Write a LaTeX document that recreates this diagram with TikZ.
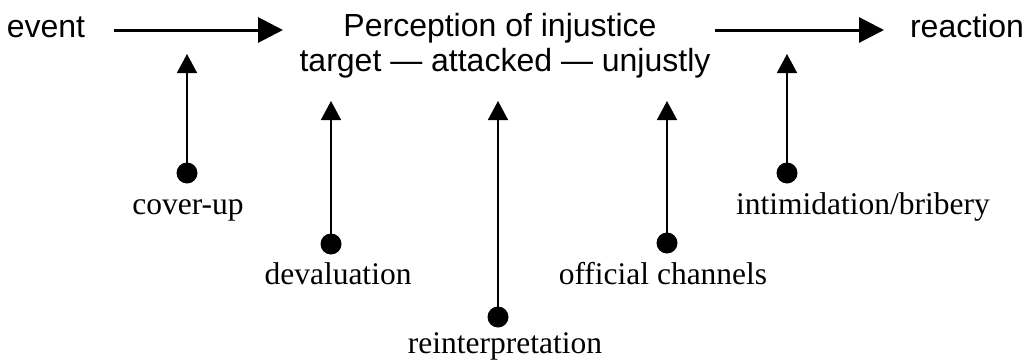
\documentclass[tikz,border=0pt]{standalone}
\usepackage{fontspec}
\setmainfont{Liberation Serif}
\setsansfont{Liberation Sans}
\usetikzlibrary{arrows.meta}
\begin{document}
\begin{tikzpicture}[x=1pt,y=-1pt,
  sanslab/.style={font=\sffamily\fontsize{32}{36}\selectfont, inner sep=0pt, anchor=base},
  serlab/.style={font=\rmfamily\fontsize{31.5}{36}\selectfont, inner sep=0pt, anchor=base},
  dot/.style={circle, fill=black, minimum size=21pt, inner sep=0pt},
  mainarrow/.style={line width=3pt, -{Triangle[length=25pt,width=25pt]}},
  inflarrow/.style={line width=1.6pt, -{Triangle[length=19pt,width=20pt]}}]
\useasboundingbox (0,0) rectangle (1031,362);
% top texts
\node[sanslab] (ev) at (46,37) {event};
\node[sanslab] (p1) at (500,36) {Perception of injustice};
\node[sanslab] (p2) at (505,71) {target — attacked — unjustly};
\node[sanslab] (re) at (967,37) {reaction};
% main arrows
\coordinate (a1s) at (114,30);
\coordinate (a1e) at (283,30);
\coordinate (a2s) at (715,30);
\coordinate (a2e) at (884,30);
\draw[mainarrow] (a1s) -- (a1e);
\draw[mainarrow] (a2s) -- (a2e);
% influence points
\node[dot] (c1) at (187,173) {};
\node[dot] (c2) at (331,244) {};
\node[dot] (c3) at (498,317) {};
\node[dot] (c4) at (667,243) {};
\node[dot] (c5) at (787,173) {};
\coordinate (t1) at (187,54);
\coordinate (t2) at (331,101);
\coordinate (t3) at (498,101);
\coordinate (t4) at (667,101);
\coordinate (t5) at (787,54);
\draw[inflarrow] (c1.center) -- (t1);
\draw[inflarrow] (c2.center) -- (t2);
\draw[inflarrow] (c3.center) -- (t3);
\draw[inflarrow] (c4.center) -- (t4);
\draw[inflarrow] (c5.center) -- (t5);
% labels
\node[serlab] (l1) at (188,214) {cover-up};
\node[serlab] (l2) at (338,284) {devaluation};
\node[serlab] (l3) at (505,353) {reinterpretation};
\node[serlab] (l4) at (663,284) {official channels};
\node[serlab] (l5) at (863,214) {intimidation/bribery};
\end{tikzpicture}
\end{document}
